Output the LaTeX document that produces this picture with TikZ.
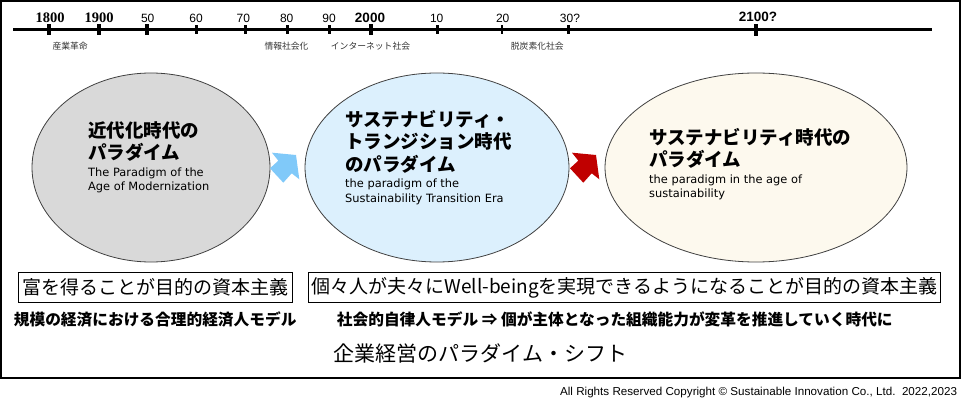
\documentclass[tikz,border=0pt]{standalone}
\usepackage{fontspec}
\usepackage{graphicx}
\usetikzlibrary{shapes.geometric}
\setmainfont{Liberation Sans}
\newfontfamily\jpfont{Noto Sans CJK JP}
\newfontfamily\dvfont{DejaVu Sans}
\newfontfamily\tmfont{Liberation Serif}
\definecolor{ellgray}{HTML}{D9D9D9}
\definecolor{ellblue}{HTML}{DCF0FD}
\definecolor{ellcream}{HTML}{FDF9EE}
\definecolor{arrblue}{HTML}{80C9F9}
\definecolor{arrred}{HTML}{C00000}
\begin{document}
\begin{tikzpicture}[x=1pt,y=-1pt,
  ell/.style={ellipse, draw=black!75, line width=0.8pt, inner sep=0pt, minimum height=189pt},
  jpt/.style={anchor=base west, inner sep=0pt, font=\jpfont\bfseries\fontsize{18.5}{21}\selectfont},
  ent/.style={anchor=base west, inner sep=0pt, font=\dvfont\fontsize{11.4}{13}\selectfont},
  numlab/.style={anchor=base, inner sep=0pt, font=\fontsize{12}{12}\selectfont},
  numbold/.style={anchor=base, inner sep=0pt, font=\bfseries\fontsize{13.5}{14}\selectfont},
  numserif/.style={anchor=base, inner sep=0pt, font=\tmfont\bfseries\fontsize{14.5}{15}\selectfont},
  sublab/.style={anchor=base west, inner sep=0pt, text=black!80, font=\jpfont\fontsize{8.8}{10}\selectfont},
  goalbox/.style={draw=black, line width=0.9pt, inner sep=0pt, minimum height=30pt, font=\jpfont\fontsize{19}{20}\selectfont},
  boldline/.style={anchor=base west, inner sep=0pt, font=\jpfont\bfseries\fontsize{15.7}{16}\selectfont},
]
\useasboundingbox (0,0) rectangle (969,406);
% outer frame
\draw[line width=1.5pt] (1,1) rectangle (960,378);
% timeline
\draw[line width=3pt] (13,29.3) -- (932,29.3);
% major ticks
\foreach \x in {49.3,98.7,146.7,370.7}{\fill (\x-2.1,24.5) rectangle (\x+2.1,35);}
\fill (756-2.2,23.8) rectangle (756+2.2,36);
% minor ticks
\foreach \x in {196.7,245.3,287.3,329.3,437.3,502,568.3}{\fill (\x-1.4,25.5) rectangle (\x+1.4,34);}
% year labels
\node[numserif] (y1800) at (50,22.8) {1800};
\node[numserif] (y1900) at (99,22.8) {1900};
\node[numlab] (y50) at (147.7,22.3) {50};
\node[numlab] (y60) at (196,22.3) {60};
\node[numlab] (y70) at (243.3,22.3) {70};
\node[numlab] (y80) at (286.7,22.3) {80};
\node[numlab] (y90) at (329,22.3) {90};
\node[numbold] (y2000) at (370,22.5) {2000};
\node[numlab] (y10) at (436.7,22.3) {10};
\node[numlab] (y20) at (502.7,22.3) {20};
\node[numlab] (y30) at (570,22.3) {30?};
\node[numbold] (y2100) at (758,21.5) {2100?};
% era labels
\node[sublab] (s1) at (52.3,49.2) {産業革命};
\node[sublab] (s2) at (264.3,49.2) {情報社会化};
\node[sublab] (s3) at (330.7,49.2) {インターネット社会};
\node[sublab] (s4) at (510.7,49.2) {脱炭素化社会};
% ellipses
\node[ell, fill=ellgray, minimum width=238pt] (e1) at (151,167.5) {};
\node[ell, fill=ellblue, minimum width=264pt] (e2) at (437,167.5) {};
\node[ell, fill=ellcream, minimum width=302pt] (e3) at (756,167.5) {};
% ellipse texts
\node[jpt] (t1a) at (88,137.8) {近代化時代の};
\node[jpt] (t1b) at (88,159.2) {パラダイム};
\node[ent] (t1c) at (88,176.6) {The Paradigm of the};
\node[ent] (t1d) at (88,190.6) {Age of Modernization};
\node[jpt] (t2a) at (345,126.6) {サステナビリティ・};
\node[jpt] (t2b) at (345,148.4) {トランジション時代};
\node[jpt] (t2c) at (345,171.4) {のパラダイム};
\node[ent] (t2d) at (345,187.8) {the paradigm of the};
\node[ent] (t2e) at (345,202.4) {Sustainability Transition Era};
\node[jpt] (t3a) at (649,144.2) {サステナビリティ時代の};
\node[jpt] (t3b) at (649,166.2) {パラダイム};
\node[ent] (t3c) at (649,183.4) {the paradigm in the age of};
\node[ent] (t3d) at (649,197.4) {sustainability};
% block arrows
\fill[arrblue] (272,152.7) -- (296,155) -- (299.3,179.3) -- (291.7,173.3) -- (283.3,182.7) -- (270,168.3) -- (278.3,160.7) -- cycle;
\fill[arrred] (572,152.7) -- (596,155) -- (599.3,179.3) -- (591.7,173.3) -- (583.3,182.7) -- (570,168.3) -- (578.3,160.7) -- cycle;
% goal boxes
\node[goalbox, minimum width=273.7pt] (g1) at (155.2,287.3) {富を得ることが目的の資本主義};
\node[goalbox, minimum width=632.4pt] (g2) at (624.5,287.5) {個々人が夫々にWell-beingを実現できるようになることが目的の資本主義};
% bold descriptions
\node[boldline] (d1) at (13.7,325.6) {規模の経済における合理的経済人モデル};
\node[boldline] (d2) at (336.7,325.6) {社会的自律人モデル ⇒ 個が主体となった組織能力が変革を推進していく時代に};
% title
\node[anchor=base west, inner sep=0pt, font=\jpfont\fontsize{21}{22}\selectfont] (title) at (333.3,361.6) {企業経営のパラダイム・シフト};
% copyright
\node[anchor=base east, inner sep=0pt, font=\fontsize{11.5}{12}\selectfont] (copy) at (957.3,395) {\resizebox{397pt}{\height}{All Rights Reserved Copyright © Sustainable Innovation Co., Ltd.\ \ 2022,2023}};
\end{tikzpicture}
\end{document}
